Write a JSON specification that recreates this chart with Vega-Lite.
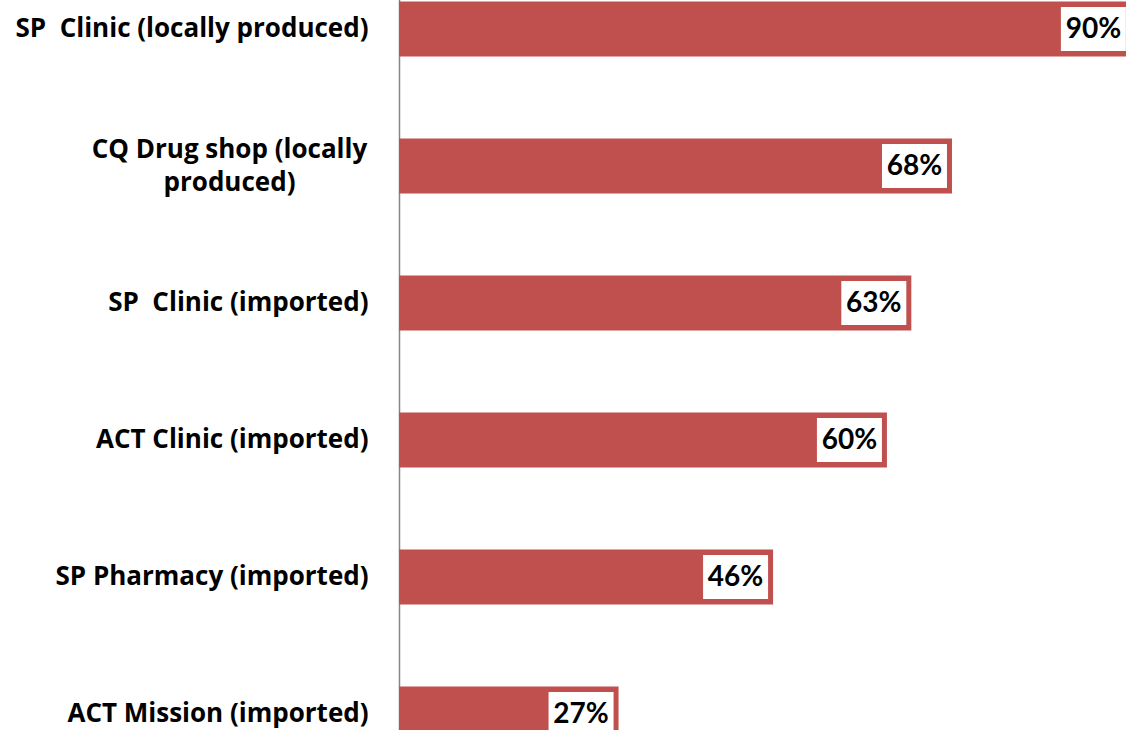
{
  "$schema": "https://vega.github.io/schema/vega-lite/v6.json",
  "autosize": {"type": "none"},
  "width": 727,
  "height": 730,
  "padding": {"left": 399, "top": 0, "right": 0, "bottom": 0},
  "background": "white",
  "config": {"view": {"stroke": null}},
  "data": {
    "values": [
      {"category": "SP\u00a0 Clinic (locally produced)", "value": 0.90},
      {"category": "CQ Drug shop (locally produced)", "value": 0.68},
      {"category": "SP\u00a0 Clinic (imported)", "value": 0.63},
      {"category": "ACT Clinic (imported)", "value": 0.60},
      {"category": "SP Pharmacy (imported)", "value": 0.46},
      {"category": "ACT Mission (imported)", "value": 0.27}
    ]
  },
  "encoding": {
    "y": {
      "field": "category",
      "type": "nominal",
      "sort": null,
      "scale": {"range": [-39.5, 782.5], "paddingInner": 0.6, "paddingOuter": 0.3},
      "axis": {
        "title": null,
        "ticks": false,
        "domain": true,
        "domainColor": "#868686",
        "domainWidth": 1.5,
        "labelFont": "Open Sans",
        "labelFontSize": 26,
        "labelFontWeight": "bold",
        "labelColor": "black",
        "labelLimit": 0,
        "labelLineHeight": 33,
        "labelExpr": "datum.value == 'CQ Drug shop (locally produced)' ? ['CQ Drug shop (locally', 'produced)'] : datum.value",
        "labelAlign": {"condition": {"test": "datum.value == 'CQ Drug shop (locally produced)'", "value": "center"}, "value": "right"},
        "labelPadding": {"condition": {"test": "datum.value == 'CQ Drug shop (locally produced)'", "value": 170}, "value": 31},
        "labelOffset": {"condition": {"test": "datum.value == 'CQ Drug shop (locally produced)'", "value": -16}, "value": 0}
      }
    },
    "x": {
      "field": "value",
      "type": "quantitative",
      "scale": {"domain": [0, 0.894], "nice": false},
      "axis": null
    }
  },
  "layer": [
    {"mark": {"type": "bar", "color": "#C0504D", "clip": true}},
    {
      "mark": {"type": "bar", "color": "white", "height": 44, "xOffset": -70, "x2Offset": -5, "clip": true},
      "encoding": {"x2": {"field": "value"}}
    },
    {
      "mark": {"type": "text", "align": "center", "baseline": "middle", "dx": -37.5, "dy": 1, "font": "Lato", "fontSize": 28, "fontWeight": "bold", "color": "black", "clip": true},
      "encoding": {"text": {"field": "value", "type": "quantitative", "format": ".0%"}}
    }
  ]
}
